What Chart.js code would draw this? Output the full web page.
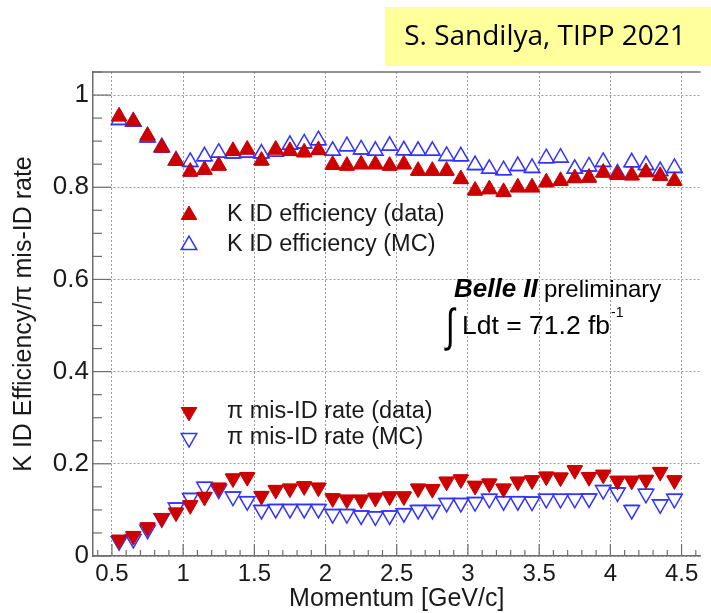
<!DOCTYPE html>
<html>
<head>
<meta charset="utf-8">
<script src="https://cdn.jsdelivr.net/npm/chart.js@4.4.1/dist/chart.umd.min.js"></script>
<style>
  body { margin: 0; background: #fff; }
  canvas { display: block; }
</style>
</head>
<body>
<canvas id="graphique" width="711" height="613"></canvas>
<script>
// centres des bins en impulsion (GeV/c)
const momentum = [0.55, 0.65, 0.75, 0.85, 0.95, 1.05, 1.15, 1.25, 1.35, 1.45,
                  1.55, 1.65, 1.75, 1.85, 1.95, 2.05, 2.15, 2.25, 2.35, 2.45,
                  2.55, 2.65, 2.75, 2.85, 2.95, 3.05, 3.15, 3.25, 3.35, 3.45,
                  3.55, 3.65, 3.75, 3.85, 3.95, 4.05, 4.15, 4.25, 4.35, 4.45];

// efficacité d'identification des K
const kEffData = [0.954, 0.943, 0.912, 0.886, 0.858, 0.834, 0.838, 0.847, 0.879, 0.882,
                  0.858, 0.882, 0.879, 0.876, 0.881, 0.849, 0.847, 0.850, 0.850, 0.847,
                  0.850, 0.836, 0.836, 0.836, 0.818, 0.793, 0.796, 0.790, 0.800, 0.800,
                  0.811, 0.814, 0.820, 0.821, 0.832, 0.827, 0.826, 0.833, 0.825, 0.814];
const kEffMC = [0.946, 0.942, 0.908, 0.887, 0.858, 0.855, 0.867, 0.875, 0.873, 0.875,
                0.873, 0.877, 0.892, 0.895, 0.902, 0.879, 0.889, 0.882, 0.879, 0.890,
                0.880, 0.879, 0.879, 0.868, 0.867, 0.848, 0.840, 0.837, 0.846, 0.842,
                0.863, 0.864, 0.840, 0.845, 0.855, 0.830, 0.854, 0.848, 0.835, 0.842];

// taux de mauvaise identification des pi
const piMisData = [0.035, 0.043, 0.062, 0.082, 0.094, 0.110, 0.128, 0.148, 0.168, 0.171,
                   0.130, 0.143, 0.146, 0.151, 0.148, 0.125, 0.122, 0.122, 0.126, 0.129,
                   0.129, 0.146, 0.145, 0.161, 0.166, 0.152, 0.157, 0.146, 0.161, 0.164,
                   0.172, 0.170, 0.186, 0.171, 0.176, 0.163, 0.163, 0.165, 0.182, 0.164];
const piMisMC = [0.032, 0.037, 0.057, 0.082, 0.105, 0.126, 0.150, 0.144, 0.129, 0.119,
                 0.100, 0.102, 0.102, 0.102, 0.102, 0.091, 0.091, 0.088, 0.086, 0.088,
                 0.093, 0.100, 0.100, 0.115, 0.115, 0.117, 0.124, 0.119, 0.119, 0.118,
                 0.124, 0.124, 0.124, 0.125, 0.143, 0.138, 0.100, 0.135, 0.112, 0.124];

const binHalfWidth = 0.05;

// graduations
const xTicks = [0.5, 1, 1.5, 2, 2.5, 3, 3.5, 4, 4.5];
const xTickLabels = ["0.5", "1", "1.5", "2", "2.5", "3", "3.5", "4", "4.5"];
const yTicks = [0, 0.2, 0.4, 0.6, 0.8, 1];
const yTickLabels = ["0", "0.2", "0.4", "0.6", "0.8", "1"];

const legendLabels = ["K ID efficiency (data)", "K ID efficiency (MC)",
                      "\u03c0 mis-ID rate (data)", "\u03c0 mis-ID rate (MC)"];

const ROUGE = "rgb(204, 0, 0)";
const BLEU = "rgb(51, 51, 255)";
const AXE = "#6e6e6e";
const RAYON = 9;

function points(values) {
    return momentum.map((x, i) => ({ x: x, y: values[i] }));
}

// petit triangle pour la légende
function triangle(ctx, x, y, r, bas, fill, stroke) {
    const s = bas ? -1 : 1;
    ctx.beginPath();
    ctx.moveTo(x, y - s * r);
    ctx.lineTo(x + r * Math.sin(Math.PI / 3), y + s * r / 2);
    ctx.lineTo(x - r * Math.sin(Math.PI / 3), y + s * r / 2);
    ctx.closePath();
    if (fill) { ctx.fillStyle = fill; ctx.fill(); }
    ctx.strokeStyle = stroke;
    ctx.lineWidth = fill ? 1 : 1.5;
    ctx.stroke();
}

const decorations = {
    id: "decorations",
    beforeDraw(chart) {
        const ctx = chart.ctx;
        ctx.save();
        // cartouche jaune
        ctx.fillStyle = "#ffff9c";
        ctx.fillRect(385, 7, 326, 59);
        ctx.fillStyle = "#000";
        ctx.font = "28px 'Open Sans'";
        ctx.textAlign = "center";
        ctx.textBaseline = "middle";
        ctx.fillText("S. Sandilya, TIPP 2021", 545, 37);
        ctx.restore();
    },
    beforeDatasetsDraw(chart) {
        // barres horizontales (largeur du bin)
        const ctx = chart.ctx;
        const xs = chart.scales.x;
        ctx.save();
        chart.data.datasets.forEach((ds, i) => {
            const meta = chart.getDatasetMeta(i);
            const bas = ds.pointRotation === 180;
            ctx.strokeStyle = ds.borderColor;
            ctx.lineWidth = 1.5;
            meta.data.forEach((pt, j) => {
                const y = pt.y + (bas ? -RAYON / 2 : RAYON / 2);
                ctx.beginPath();
                ctx.moveTo(xs.getPixelForValue(ds.data[j].x - binHalfWidth), y);
                ctx.lineTo(xs.getPixelForValue(ds.data[j].x + binHalfWidth), y);
                ctx.stroke();
            });
        });
        ctx.restore();
    },
    afterDatasetsDraw(chart) {
        const ctx = chart.ctx;
        const area = chart.chartArea;
        const xs = chart.scales.x;
        const ys = chart.scales.y;
        ctx.save();
        ctx.strokeStyle = AXE;
        ctx.lineWidth = 1.5;
        // cadre du haut
        ctx.beginPath();
        ctx.moveTo(area.left, area.top);
        ctx.lineTo(area.right, area.top);
        ctx.stroke();
        // graduations vers l'intérieur
        ctx.lineWidth = 1.2;
        for (let k = 4; k <= 46; k++) {
            const px = xs.getPixelForValue(k / 10);
            const len = k % 5 === 0 ? 12 : 6;
            ctx.beginPath();
            ctx.moveTo(px, area.bottom);
            ctx.lineTo(px, area.bottom - len);
            ctx.stroke();
        }
        for (let k = 0; k <= 21; k++) {
            const py = ys.getPixelForValue(k / 20);
            const len = k % 4 === 0 ? 18 : 9;
            ctx.beginPath();
            ctx.moveTo(area.left, py);
            ctx.lineTo(area.left + len, py);
            ctx.stroke();
        }
        // légende
        const entrees = [
            { y: 215, bas: false, fill: ROUGE, stroke: ROUGE },
            { y: 245, bas: false, fill: null, stroke: BLEU },
            { y: 412, bas: true, fill: ROUGE, stroke: ROUGE },
            { y: 438, bas: true, fill: null, stroke: BLEU },
        ];
        ctx.font = "23.5px 'Liberation Sans'";
        ctx.textBaseline = "middle";
        ctx.textAlign = "left";
        entrees.forEach((e, i) => {
            triangle(ctx, 189, e.y, RAYON, e.bas, e.fill, e.stroke);
            ctx.fillStyle = "#1a1a1a";
            ctx.fillText(legendLabels[i], 227, e.y);
        });
        // Belle II preliminary
        ctx.fillStyle = "#000";
        ctx.textBaseline = "alphabetic";
        ctx.font = "italic bold 26px 'Liberation Sans'";
        ctx.fillText("Belle II", 454, 297);
        ctx.font = "24px 'Liberation Sans'";
        ctx.fillText("preliminary", 544, 297);
        ctx.save();
        ctx.translate(446, 341);
        ctx.scale(0.8, 1.15);
        ctx.font = "40px 'Liberation Sans'";
        ctx.fillText("\u222b", 0, 0);
        ctx.restore();
        ctx.font = "26.5px 'Liberation Sans'";
        ctx.fillText("Ldt = 71.2 fb", 462, 334);
        ctx.font = "14px 'Liberation Sans'";
        ctx.fillText("-1", 611, 317);
        ctx.restore();
    }
};

new Chart(document.querySelector("#graphique"), {
    type: "scatter",
    data: {
        datasets: [
            { label: legendLabels[0], data: points(kEffData), pointStyle: "triangle", pointRotation: 0,
              backgroundColor: ROUGE, borderColor: ROUGE, borderWidth: 1, order: 1 },
            { label: legendLabels[1], data: points(kEffMC), pointStyle: "triangle", pointRotation: 0,
              backgroundColor: "rgba(255,255,255,0)", borderColor: BLEU, borderWidth: 1.5, order: 2 },
            { label: legendLabels[2], data: points(piMisData), pointStyle: "triangle", pointRotation: 180,
              backgroundColor: ROUGE, borderColor: ROUGE, borderWidth: 1, order: 1 },
            { label: legendLabels[3], data: points(piMisMC), pointStyle: "triangle", pointRotation: 180,
              backgroundColor: "rgba(255,255,255,0)", borderColor: BLEU, borderWidth: 1.5, order: 2 },
        ]
    },
    options: {
        responsive: false,
        animation: false,
        layout: { padding: { top: 72, left: 0, right: 0, bottom: 0 } },
        elements: { point: { radius: RAYON, hoverRadius: RAYON } },
        plugins: { legend: { display: false }, tooltip: { enabled: false } },
        scales: {
            x: {
                type: "linear",
                min: 0.367,
                max: 4.633,
                afterBuildTicks: (s) => { s.ticks = xTicks.map(v => ({ value: v })); },
                afterFit: (s) => { s.height = 57; },
                ticks: {
                    callback: (v, i) => xTickLabels[i],
                    autoSkip: false, maxRotation: 0, padding: 4,
                    color: "#1a1a1a", font: { family: "'Liberation Sans'", size: 24 }
                },
                grid: { color: "#9a9a9a", lineWidth: 1, drawTicks: false },
                border: { color: AXE, width: 1.5, dash: [2, 2] },
                title: {
                    display: true, text: "Momentum [GeV/c]", color: "#1a1a1a",
                    font: { family: "'Liberation Sans'", size: 25 }, padding: { top: 0, bottom: -1 }
                }
            },
            y: {
                min: 0,
                max: 1.05,
                afterBuildTicks: (s) => { s.ticks = yTicks.map(v => ({ value: v })); },
                afterFit: (s) => { s.width = 93; },
                ticks: {
                    callback: (v, i) => yTickLabels[i],
                    autoSkip: false, padding: 4,
                    color: "#1a1a1a", font: { family: "'Liberation Sans'", size: 26 }
                },
                grid: { color: "#9a9a9a", lineWidth: 1, drawTicks: false },
                border: { color: AXE, width: 1.5, dash: [2, 2] },
                title: {
                    display: true, text: "K ID Efficiency/\u03c0 mis-ID rate", color: "#1a1a1a",
                    font: { family: "'Liberation Sans'", size: 25 }, padding: { top: 9, bottom: 0 }
                }
            }
        }
    },
    plugins: [decorations]
});
</script>
</body>
</html>
